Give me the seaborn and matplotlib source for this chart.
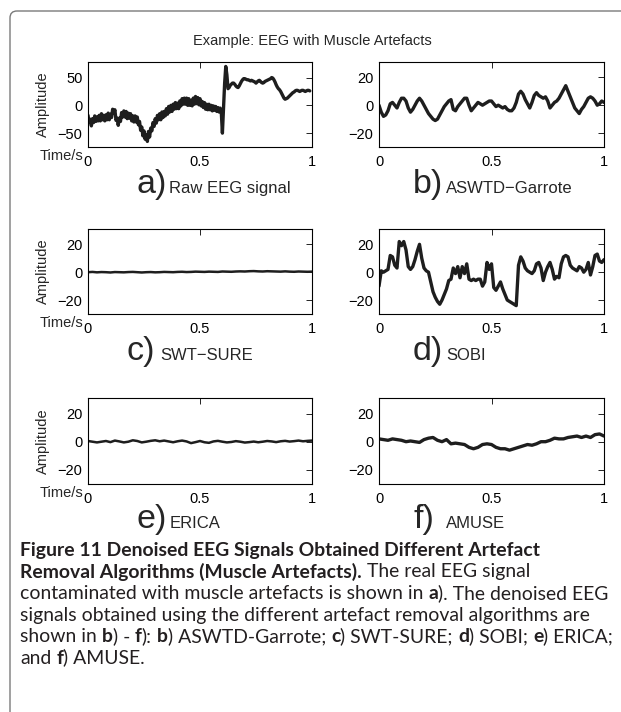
import numpy as np
import pandas as pd
import matplotlib
matplotlib.use("Agg")
import matplotlib.pyplot as plt
import seaborn as sns
from matplotlib.path import Path
from matplotlib.patches import PathPatch

# ---------------- data ----------------
raw_eeg = [
    -18, -31, -25, -37, -24, -31, -19, -29, -21, -28, -18, -28, -15, -26, -18, -28, -17, -26, -14, -26,
    -16, -22, -7, -14, -8, -27, -23, -36, -23, -29, -13, -21, -10, -21, -11, -24, -14, -23, -15, -28,
    -19, -30, -19, -30, -21, -35, -29, -45, -39, -55, -46, -61, -53, -65, -47, -57, -41, -46, -31, -38,
    -24, -32, -18, -26, -15, -26, -12, -22, -11, -19, -6, -16, -2, -12, 0, -11, 2, -7, 5, -6,
    4, -6, 8, -1, 12, 2, 13, 2, 13, 0, 12, 0, 9, -1, 13, 2, 16, 3, 14, 1,
    12, -1, 7, -4, 5, -7, 2, -8, 2, -8, 0, -10, -1, -9, -2, -11, -4, -12, -5, -12,
    -50, -5, 40, 70, 55, 30, 32, 36, 38, 40, 40, 38, 35, 33, 32, 35, 39, 43, 46, 48,
    48, 47, 46, 46, 45, 44, 45, 44, 43, 42, 40, 42, 44, 45, 43, 41, 40, 41, 43, 44,
    45, 46, 47, 48, 50, 49, 46, 42, 37, 33, 30, 28, 25, 21, 17, 13, 11, 12, 13, 15,
    17, 19, 21, 23, 24, 26, 27, 27, 26, 25, 26, 27, 27, 26, 25, 26, 27, 27, 26,
]
aswtd_garrote = [
    0, -5, -8, -7, -4, 1, 2, 0, -2, 2,
    5, 5, 3, -2, -5, -3, 0, 3, 5, 3,
    0, -3, -6, -8, -10, -11, -10, -7, -4, -1,
    1, 3, 4, -3, -4, -1, 1, 3, 5, 5,
    0, -4, -2, 0, 2, 1, 0, 1, 2, 3,
    3, 1, -1, 0, -1, -2, -1, -3, -4, -4,
    -2, 2, 8, 10, 8, 4, 1, -2, 2, 7,
    9, 7, 6, 5, 6, 3, -2, 0, 2, 3,
    5, 8, 11, 14, 10, 6, 2, -2, -4, -6,
    -3, -1, 2, 5, 6, 5, 3, 0, 1, 3,
    2,
]
swt_sure = [
    0, 0.2, -0.1, 0.1, 0, -0.2, 0.1, 0, -0.1, 0.1,
    0.2, 0, -0.2, 0, 0.1, -0.1, 0, 0.2, 0.1, 0,
    0.2, 0.3, 0.1, 0.2, 0.4, 0.3, 0.2, 0.4, 0.3, 0.2,
    0.5, 0.4, 0.3, 0.5, 0.6, 0.5, 0.7, 0.8, 0.6, 0.5,
    0.7, 0.6, 0.5, 0.4, 0.6, 0.4, 0.3, 0.5, 0.4, 0.3,
    0.4,
]
sobi = [
    -10, 1, 0, 1, 2, 12, 11, 5, 3, 22,
    19, 22, 16, 4, 2, 4, 9, 15, 20, 10,
    3, 1, 0, -7, -14, -18, -21, -23, -20, -16,
    -12, -6, -5, 3, -1, 4, -4, 4, -1, 6,
    -5, -6, -5, -6, -5, -5, -10, -7, 7, 2,
    6, -11, -13, -10, -7, -12, -16, -20, -21, -22,
    -23, -24, 5, 11, 8, 3, 1, 0, -1, 1,
    6, 7, 3, -6, 0, 4, 7, 2, -5, -3,
    -4, 6, 11, 12, 11, 5, 3, 2, 1, 4,
    3, 0, 2, 7, -2, 4, 12, 13, 8, 7,
    9,
]
erica = [
    0.5, 0, -0.5, 0, 0.5, -0.3, 0.8, 0.2, -0.5, 0,
    1, 0.5, -0.5, 0, 0.6, 1, 0.3, 0.8, 0.2, -0.4,
    0.3, 0.8, 0.2, -1, -0.3, 0.5, -0.4, -0.8, 0.2, 0.6,
    0, -0.5, -0.2, 0.4, 0, -0.6, -0.3, 0.1, -0.4, 0,
    0.5, 0.2, -0.3, 0.3, 0.6, 0.1, 0.4, 0.8, 0.3, 0.6,
    0.8,
]
amuse = [
    2, 1.5, 1, 2, 1.5, 1, 0, 0.5, 0, -0.5,
    1.5, 2.5, 3, 1, 0, 1.5, -1.5, -1, -1.5, -2,
    -4, -5, -4, -2, -1.5, -2, -4, -5, -5, -6,
    -5, -4, -3, -2, -2.5, -1.5, 0, 0, 1, 2.5,
    2, 2, 3, 3.5, 4, 3, 4, 3, 5, 5.5,
    4,
]
signal_end_times = [0.99, 1.0, 1.0, 1.0, 1.0, 1.0]

panel_letters = ["a)", "b)", "c)", "d)", "e)", "f)"]
panel_names = ["Raw EEG signal", "ASWTD\u2212Garrote", "SWT\u2212SURE", "SOBI", "ERICA", "AMUSE"]
x_ticks = [0, 0.5, 1]
x_tick_labels = ["0", "0.5", "1"]
y_ticks_raw = [-50, 0, 50]
y_ticks_den = [-20, 0, 20]
title_text = "Example: EEG with Muscle Artefacts"
y_label = "Amplitude"
x_label = "Time/s"

caption_lines = [
    [("Figure 11 Denoised EEG Signals Obtained Different Artefact", "bold")],
    [("Removal Algorithms (Muscle Artefacts).", "bold"), (" The real EEG signal", "normal")],
    [("contaminated with muscle artefacts is shown in ", "normal"), ("a", "bold"),
     ("). The denoised EEG", "normal")],
    [("signals obtained using the different artefact removal algorithms are", "normal")],
    [("shown in ", "normal"), ("b", "bold"), (") - ", "normal"), ("f", "bold"), ("): ", "normal"),
     ("b", "bold"), (") ASWTD-Garrote; ", "normal"), ("c", "bold"), (") SWT-SURE; ", "normal"),
     ("d", "bold"), (") SOBI; ", "normal"), ("e", "bold"), (") ERICA;", "normal")],
    [("and ", "normal"), ("f", "bold"), (") AMUSE.", "normal")],
]

# ---------------- build long-form table ----------------
series = [raw_eeg, aswtd_garrote, swt_sure, sobi, erica, amuse]
frames = []
for name, vals, tend in zip(panel_names, series, signal_end_times):
    frames.append(pd.DataFrame({"panel": name,
                                "time": np.linspace(0, tend, len(vals)),
                                "amp": vals}))
df = pd.concat(frames, ignore_index=True)

# ---------------- figure ----------------
sns.set_style("white")
plt.rcParams["font.family"] = ["Liberation Sans", "DejaVu Sans"]
plt.rcParams["axes.unicode_minus"] = True

W, H = 621, 712
fig = plt.figure(figsize=(W / 100, H / 100), dpi=100)
fig.patch.set_facecolor("white")

def px_axes(left, top, right, bottom):
    return fig.add_axes([left / W, 1 - bottom / H, (right - left) / W, (bottom - top) / H])

boxes = [(88, 62, 312, 147), (379, 62, 604, 147),
         (88, 229, 312, 314), (379, 229, 604, 314),
         (88, 398, 312, 484), (379, 398, 604, 484)]
ylims = [(-75, 78), (-30, 31), (-30, 31), (-30, 31), (-30, 31), (-30, 31)]
label_left = [(137, 169), (413, 446), (127, 160), (413, 446), (137, 170), (413, 446)]
label_base = [193, 193, 360, 360, 528, 528]

line_color = "#1e1e1e"
for i, (box, name) in enumerate(zip(boxes, panel_names)):
    ax = px_axes(*box)
    sub = df[df["panel"] == name]
    sns.lineplot(data=sub, x="time", y="amp", ax=ax, color=line_color,
                 linewidth=1.8 if i in (2, 4) else 2.4, estimator=None, sort=False)
    ax.set_xlim(0, 1)
    ax.set_ylim(*ylims[i])
    ax.set_xticks(x_ticks)
    ax.set_xticklabels(x_tick_labels)
    ax.set_yticks(y_ticks_raw if i == 0 else y_ticks_den)
    ax.set_xlabel("")
    ax.set_ylabel("")
    for sp in ax.spines.values():
        sp.set_visible(True)
        sp.set_color("black")
        sp.set_linewidth(0.8)
    ax.tick_params(direction="in", top=True, right=True, length=4, width=0.6,
                   labelsize=10.5, colors="black")
    ax.tick_params(axis="x", pad=6)
    ax.tick_params(axis="y", pad=4)
    ax.set_facecolor("white")

    if i % 2 == 0:
        cy = (box[1] + box[3]) / 2
        fig.text(43 / W, 1 - cy / H, y_label, rotation=90, ha="center", va="center",
                 fontsize=10.5)
        fig.text(83 / W, 1 - (box[3] + 9) / H, x_label, ha="right", va="center",
                 fontsize=10.5)

    lx, tx = label_left[i]
    fig.text(lx / W, 1 - label_base[i] / H, panel_letters[i], ha="left", va="baseline",
             fontsize=24.5)
    fig.text(tx / W, 1 - label_base[i] / H, name, ha="left", va="baseline", fontsize=12)

fig.text(312 / W, 1 - 41 / H, title_text, ha="center", va="center", fontsize=10.5)

# ---------------- frame (top and left edges, rounded top-left corner) ----------------
fx, fy, r = 0.10, (H - 11) / 100, 0.07
verts = [(fx, -0.5), (fx, fy - r), (fx, fy), (fx + r, fy), (W / 100 + 0.5, fy)]
codes = [Path.MOVETO, Path.LINETO, Path.CURVE3, Path.CURVE3, Path.LINETO]
frame = PathPatch(Path(verts, codes), transform=fig.dpi_scale_trans, fill=False,
                  edgecolor="#7a7a7a", linewidth=1.0, clip_on=False)
fig.add_artist(frame)

# ---------------- caption ----------------
CAP_FONT = ["Lato", "DejaVu Sans"]
renderer = fig.canvas.get_renderer()

def text_width(s, weight, size):
    t = fig.text(0, 0, s, fontsize=size, fontweight=weight, family=CAP_FONT)
    w = t.get_window_extent(renderer).width
    t.remove()
    return w

def line_width(runs, size):
    total = 0.0
    for s, wgt in runs:
        sw = text_width("a a", wgt, size) - text_width("aa", wgt, size)
        core = s.strip(" ")
        lead = len(s) - len(s.lstrip(" "))
        trail = len(s) - len(s.rstrip(" "))
        total += (lead + trail) * sw + (text_width(core, wgt, size) if core else 0)
    return total

base_size = 10.0
target = 589.0
cap_size = base_size * target / line_width(caption_lines[2], base_size)

def draw_runs(x0, y0, runs, size):
    x = x0
    for s, wgt in runs:
        sw = text_width("a a", wgt, size) - text_width("aa", wgt, size)
        core = s.strip(" ")
        lead = len(s) - len(s.lstrip(" "))
        trail = len(s) - len(s.rstrip(" "))
        x += lead * sw
        if core:
            fig.text(x / W, 1 - y0 / H, core, fontsize=size, fontweight=wgt,
                     family=CAP_FONT, ha="left", va="baseline", color="#231f20")
            x += text_width(core, wgt, size)
        x += trail * sw

for k, runs in enumerate(caption_lines):
    draw_runs(20, 556 + 21.5 * k, runs, cap_size)

fig.savefig("out.png", dpi=100, facecolor="white")
